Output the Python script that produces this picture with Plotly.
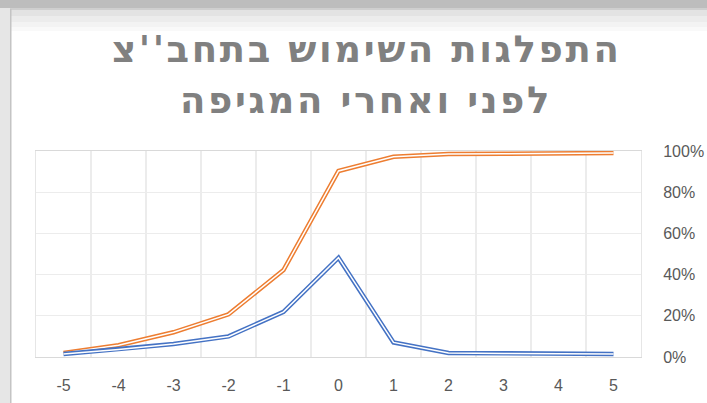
import plotly.graph_objects as go

categories = [-5, -4, -3, -2, -1, 0, 1, 2, 3, 4, 5]
blue_values = [0.015, 0.037, 0.063, 0.100, 0.219, 0.482, 0.071, 0.020, 0.017, 0.015, 0.015]
orange_values = [0.020, 0.057, 0.120, 0.207, 0.422, 0.903, 0.972, 0.986, 0.987, 0.989, 0.990]
y_ticks = [0, 0.2, 0.4, 0.6, 0.8, 1.0]
title_lines = ["התפלגות השימוש בתחב''צ", "לפני ואחרי המגיפה"]

W, H = 707, 403
L, R, T, B = 36, 641, 151, 357

def px(x):
    return (x - L) / (R - L)

def py(y):
    return (B - y) / (B - T)

fig = go.Figure()
# double ("compound") lines: a wide coloured stroke with a thin white core
for vals, col in [(orange_values, "#ED7D31"), (blue_values, "#4472C4")]:
    fig.add_trace(go.Scatter(x=categories, y=vals, mode="lines",
                             line=dict(color=col, width=4.5), hoverinfo="skip", showlegend=False))
    fig.add_trace(go.Scatter(x=categories, y=vals, mode="lines",
                             line=dict(color="white", width=1.5), hoverinfo="skip", showlegend=False))

shapes = []
# window frame / shadow
shapes.append(dict(type="rect", xref="paper", yref="paper", x0=px(0), x1=px(W), y0=py(0), y1=py(8),
                   fillcolor="#bdbdbd", line_width=0, layer="below"))
shapes.append(dict(type="rect", xref="paper", yref="paper", x0=px(0), x1=px(W), y0=py(8), y1=py(10),
                   fillcolor="#cfcfcf", line_width=0, layer="below"))
steps = [(10, 16, "#e3e3e3"), (16, 22, "#ececec"), (22, 27, "#f3f3f3"), (27, 31, "#f9f9f9")]
for y0, y1, c in steps:
    shapes.append(dict(type="rect", xref="paper", yref="paper", x0=px(11), x1=px(W), y0=py(y0), y1=py(y1),
                       fillcolor=c, line_width=0, layer="below"))
shapes.append(dict(type="rect", xref="paper", yref="paper", x0=px(0), x1=px(10), y0=py(8), y1=py(H),
                   fillcolor="#e6e6e6", line_width=0, layer="below"))
shapes.append(dict(type="rect", xref="paper", yref="paper", x0=px(10), x1=px(11.5), y0=py(9), y1=py(H),
                   fillcolor="#c4c4c4", line_width=0, layer="below"))

title_font = dict(family="DejaVu Sans", size=37, color="#808080")
annotations = []
for line, yc in zip(title_lines, [49, 100]):
    annotations.append(dict(text="<b><span style='letter-spacing:2.6px'>" + line + "</span></b>",
                            xref="paper", yref="paper",
                            x=px(366), y=py(yc), xanchor="center", yanchor="middle",
                            showarrow=False, font=title_font))

fig.update_layout(
    width=W, height=H,
    margin=dict(l=L, r=W - R, t=T, b=H - B, pad=0, autoexpand=False),
    paper_bgcolor="white", plot_bgcolor="white",
    shapes=shapes, annotations=annotations,
    xaxis=dict(range=[-5.5, 5.5], tickmode="array", tickvals=categories,
               ticktext=[str(c) for c in categories], showgrid=False, zeroline=False,
               ticks="", ticklabelstandoff=14, automargin=False,
               tickfont=dict(family="Liberation Sans", size=16, color="#595959"),
               showline=True, linecolor="#d9d9d9", linewidth=1, mirror=True,
               minor=dict(tickvals=[c + 0.5 for c in categories[:-1]], showgrid=True,
                          gridcolor="#ececec", gridwidth=1.3, ticks="")),
    yaxis=dict(range=[0, 1], side="right", tickmode="array", tickvals=y_ticks,
               tickformat=".0%", showgrid=True, gridcolor="#ececec", gridwidth=1.3,
               zeroline=False, ticks="", ticklabelstandoff=18, automargin=False,
               tickfont=dict(family="Liberation Sans", size=16, color="#595959"),
               showline=True, linecolor="#e6e6e6", linewidth=1, mirror=True),
)

fig.write_html("out.html", config={"displayModeBar": False, "staticPlot": True},
               post_script="document.body.style.margin='0';")
